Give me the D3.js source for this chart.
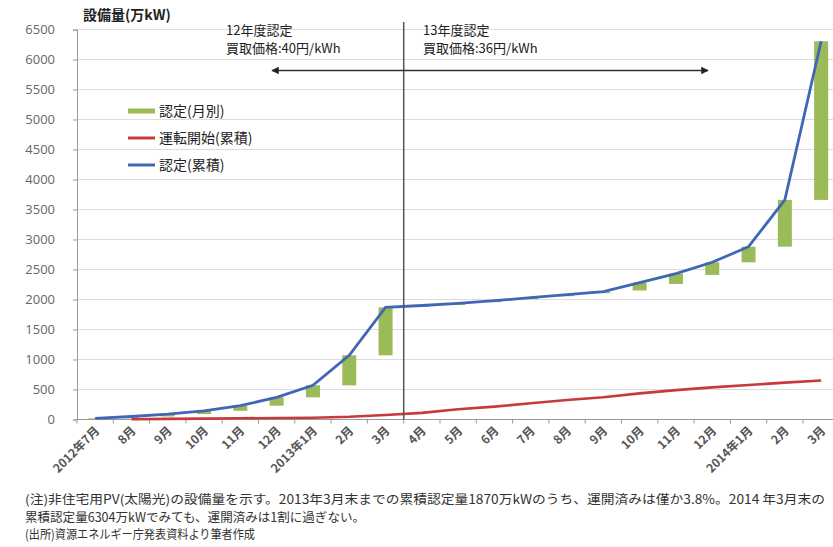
<!DOCTYPE html>
<html><head><meta charset="utf-8">
<script src="https://cdn.jsdelivr.net/npm/d3@7"></script>
<style>
html,body{margin:0;padding:0;background:#fff;}
svg{display:block;font-family:"Noto Sans CJK JP","Noto Sans",sans-serif;}
</style></head>
<body><svg id="c" width="833" height="547"></svg>
<script>
const categories = ["2012年7月","8月","9月","10月","11月","12月","2013年1月","2月","3月","4月","5月","6月","7月","8月","9月","10月","11月","12月","2014年1月","2月","3月"];
const cumulative = [20, 50, 90, 145, 230, 370, 570, 1070, 1870, 1900, 1935, 1980, 2030, 2080, 2130, 2280, 2430, 2620, 2880, 3660, 6304];
const monthly    = [20, 30, 40, 55, 85, 140, 200, 500, 800, 25, 25, 25, 25, 25, 25, 130, 170, 210, 260, 780, 2644];
const operating  = [null, 5, 10, 15, 20, 25, 30, 45, 75, 110, 170, 215, 270, 325, 370, 435, 490, 535, 575, 615, 650];
const yTicks = [0,500,1000,1500,2000,2500,3000,3500,4000,4500,5000,5500,6000,6500];
const legendLabels = ["認定(月別)","運転開始(累積)","認定(累積)"];
const annotations = [
  {lines:["12年度認定","買取価格:40円/kWh"]},
  {lines:["13年度認定","買取価格:36円/kWh"]}
];
const notes = [
  "(注)非住宅用PV(太陽光)の設備量を示す。2013年3月末までの累積認定量1870万kWのうち、運開済みは僅か3.8%。2014 年3月末の",
  "累積認定量6304万kWでみても、運開済みは1割に過ぎない。",
  "(出所)資源エネルギー庁発表資料より筆者作成"
];

const svg = d3.select("#c");
const L = 77, B = 419.5, T = 29.5, step = 36.3;
const idx = d3.range(categories.length);
const x = d3.scaleBand().domain(idx).range([L, L + step*categories.length]).padding(0);
const y = d3.scaleLinear().domain([0,6500]).range([B, T]);
const cx = i => x(i) + x.bandwidth()/2;

svg.append("rect").attr("width",833).attr("height",547).attr("fill","#fff");

// gridlines
svg.append("g").selectAll("line").data(yTicks.filter(d=>d>0)).join("line")
  .attr("x1",L).attr("x2",833).attr("y1",d=>y(d)).attr("y2",d=>y(d))
  .attr("stroke","#dcdcdc").attr("stroke-width",1.2);

// y axis
const ya = svg.append("g").attr("transform",`translate(${L},0)`)
  .call(d3.axisLeft(y).tickValues(yTicks).tickSize(4).tickPadding(18).tickFormat(d3.format("d")));
ya.select(".domain").attr("stroke","#999");
ya.selectAll(".tick line").attr("stroke","#999");
ya.selectAll("text").attr("font-size",13).attr("fill","#666")
  .attr("font-family","'Open Sans','DejaVu Sans',sans-serif");

// x axis
const xa = svg.append("g").attr("transform",`translate(0,${B})`);
xa.append("line").attr("x1",L).attr("x2",833).attr("stroke","#999").attr("stroke-width",1.2);
xa.selectAll("line.t").data(d3.range(categories.length+1)).join("line").attr("class","t")
  .attr("x1",i=>L+step*i).attr("x2",i=>L+step*i).attr("y1",0).attr("y2",4).attr("stroke","#999");
xa.selectAll("text").data(idx).join("text")
  .attr("transform",i=>`translate(${cx(i)+5},${12}) rotate(-45)`)
  .attr("text-anchor","end").attr("font-size",12).attr("font-weight","bold").attr("fill","#555")
  .text(i=>categories[i]);

// bars (monthly certification, floating)
svg.append("g").selectAll("rect").data(idx).join("rect")
  .attr("x",i=>cx(i)-7).attr("width",14)
  .attr("y",i=>y(cumulative[i]))
  .attr("height",i=>y(cumulative[i]-monthly[i])-y(cumulative[i]))
  .attr("fill","#9BBB59");

// red line
const lineR = d3.line().defined(i=>operating[i]!=null).x(cx).y(i=>y(operating[i]));
svg.append("path").attr("d",lineR(idx)).attr("fill","none").attr("stroke","#C8393B").attr("stroke-width",2.6);
// blue line
const lineB = d3.line().x(cx).y(i=>y(cumulative[i]));
svg.append("path").attr("d",lineB(idx)).attr("fill","none").attr("stroke","#4166B5").attr("stroke-width",2.8);

// divider
const xd = x(9);
svg.append("line").attr("x1",xd).attr("x2",xd).attr("y1",22).attr("y2",B)
  .attr("stroke","#555").attr("stroke-width",1.5);

// arrows
const defs = svg.append("defs");
defs.append("marker").attr("id","ah").attr("viewBox","0 0 10 10").attr("refX",9).attr("refY",5)
  .attr("markerWidth",5).attr("markerHeight",5).attr("orient","auto-start-reverse")
  .append("path").attr("d","M0,0 L10,5 L0,10 z").attr("fill","#222");
svg.append("line").attr("x1",xd).attr("x2",272).attr("y1",70.5).attr("y2",70.5)
  .attr("stroke","#333").attr("stroke-width",1.5).attr("marker-end","url(#ah)");
svg.append("line").attr("x1",xd).attr("x2",708).attr("y1",70.5).attr("y2",70.5)
  .attr("stroke","#333").attr("stroke-width",1.5).attr("marker-end","url(#ah)");

// annotation texts
const annX = [226, 423];
annotations.forEach((a,k)=>{
  a.lines.forEach((s,j)=>{
    svg.append("text").attr("x",annX[k]).attr("y",35+j*18).attr("font-size",13).attr("fill","#222").text(s);
  });
});

// y title
svg.append("text").attr("x",83).attr("y",20).attr("font-size",14).attr("font-weight","bold")
  .attr("fill","#222").text("設備量(万kW)");

// legend
const legColors = ["#9BBB59","#C8393B","#4166B5"];
const legW = [5,3,3];
legendLabels.forEach((s,k)=>{
  const yy = 111 + k*27;
  svg.append("line").attr("x1",128).attr("x2",155).attr("y1",yy).attr("y2",yy)
    .attr("stroke",legColors[k]).attr("stroke-width",legW[k]);
  svg.append("text").attr("x",159).attr("y",yy+5).attr("font-size",14).attr("fill","#222").text(s);
});

// notes
const noteLen = [800, 340, 230];
notes.forEach((s,k)=>{
  svg.append("text").attr("x",25).attr("y",504+k*17.5).attr("font-size",12.5).attr("fill","#333")
    .attr("textLength",noteLen[k]).attr("lengthAdjust","spacingAndGlyphs").text(s);
});
</script></body></html>
